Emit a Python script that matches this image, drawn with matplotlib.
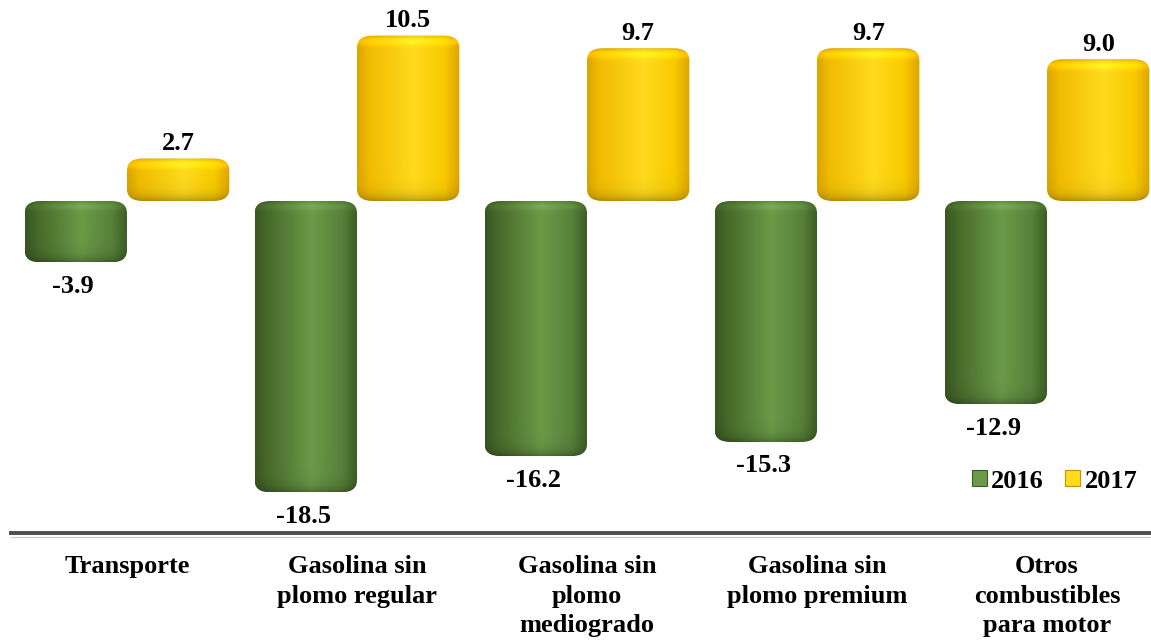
import numpy as np
import matplotlib
matplotlib.use("Agg")
import matplotlib.pyplot as plt
from matplotlib.patches import FancyBboxPatch, Patch
from matplotlib.colors import to_rgb

# ---- data -------------------------------------------------------------
categories = [
    "Transporte",
    "Gasolina sin\nplomo regular",
    "Gasolina sin\nplomo\nmediogrado",
    "Gasolina sin\nplomo premium",
    "Otros\ncombustibles\npara motor",
]
values_2016 = [-3.9, -18.5, -16.2, -15.3, -12.9]
values_2017 = [2.7, 10.5, 9.7, 9.7, 9.0]
series_labels = ["2016", "2017"]

# ---- style ------------------------------------------------------------
plt.rcParams["font.family"] = ["Liberation Serif", "DejaVu Serif"]
FS = 19
GREEN_STOPS = [(0.0, "#38561f"), (0.12, "#47692b"), (0.55, "#6b9a48"),
               (0.85, "#57803a"), (1.0, "#3c5b22")]
GOLD_STOPS = [(0.0, "#dba500"), (0.12, "#f0bc00"), (0.55, "#ffda1e"),
              (0.85, "#f8ca00"), (1.0, "#dca400")]
BAR_W = 0.445

fig = plt.figure(figsize=(11.51, 6.40), dpi=100)
ax = fig.add_axes([0, 0, 1, 1])
ax.set_xlim(-0.552, 4.452)
ax.set_ylim(-27.87, 12.76)
ax.axis("off")


def px_per_unit():
    p0 = ax.transData.transform((0, 0))
    p1 = ax.transData.transform((1, 1))
    return p1[0] - p0[0], p1[1] - p0[1]


def cylinder(x0, w, v, stops):
    """Draw a rounded, shaded column from 0 to v."""
    y0, y1 = min(0.0, v), max(0.0, v)
    sx, sy = px_per_unit()
    wpx, hpx = w * sx, (y1 - y0) * sy
    ncol = max(int(wpx * 2), 2)
    nrow = max(int(hpx * 2), 2)
    t = np.linspace(0, 1, ncol)
    pos = [s[0] for s in stops]
    cols = np.array([to_rgb(s[1]) for s in stops])
    row = np.stack([np.interp(t, pos, cols[:, k]) for k in range(3)], axis=-1)
    d_top = np.linspace(0, hpx, nrow)
    d_bot = hpx - d_top
    f = (1.0
         + 0.13 * np.exp(-((d_top - 6.0) / 4.0) ** 2)
         - 0.15 * np.exp(-d_top / 2.0)
         - 0.28 * np.exp(-d_bot / 6.0))
    img = np.clip(row[None, :, :] * f[:, None, None], 0, 1)

    rx, ry = 16.0, 12.0
    r = rx / sx
    asp = (ry / sy) / r
    patch = FancyBboxPatch((x0, y0), w, y1 - y0,
                           boxstyle=f"round,pad=0,rounding_size={r}",
                           mutation_aspect=asp, facecolor="none",
                           edgecolor="none", zorder=2)
    ax.add_patch(patch)
    im = ax.imshow(img, extent=(x0, x0 + w, y0, y1), origin="upper",
                   aspect="auto", interpolation="bilinear", zorder=2)
    im.set_clip_path(patch)


for i, (a, b) in enumerate(zip(values_2016, values_2017)):
    cylinder(i - BAR_W, BAR_W, a, GREEN_STOPS)
    cylinder(i, BAR_W, b, GOLD_STOPS)
    ax.annotate(f"{a:.1f}", (i - BAR_W / 2, a), xytext=(-2, -9),
                textcoords="offset points", ha="center", va="top",
                fontsize=FS, fontweight="bold")
    ax.annotate(f"{b:.1f}", (i + BAR_W / 2, b), xytext=(0, 6),
                textcoords="offset points", ha="center", va="baseline",
                fontsize=FS, fontweight="bold")

# category axis line and labels
ax.axhline(-21.08, xmin=11 / 1151, xmax=1, color="#4d4d4d", lw=2.8, zorder=3)
ax.axhline(-21.3, xmin=11 / 1151, xmax=1, color="#c8c8c8", lw=0.8, zorder=2)
for i, c in enumerate(categories):
    ax.text(i, -22.48, c, ha="center", va="top", fontsize=FS,
            fontweight="bold", linespacing=1.37)

handles = [Patch(facecolor=GREEN_STOPS[2][1], edgecolor="#3c5b22", lw=0.8),
           Patch(facecolor=GOLD_STOPS[2][1], edgecolor="#c89000", lw=0.8)]
fig.legend(handles, series_labels, loc="center left",
           bbox_to_anchor=(972 / 1151, 1 - 481 / 640), ncol=2, frameon=False,
           borderpad=0, borderaxespad=0, handlelength=0.58, handleheight=0.58,
           handletextpad=0.15, columnspacing=0.8,
           prop={"weight": "bold", "size": FS})

fig.savefig("out.png", dpi=100)
